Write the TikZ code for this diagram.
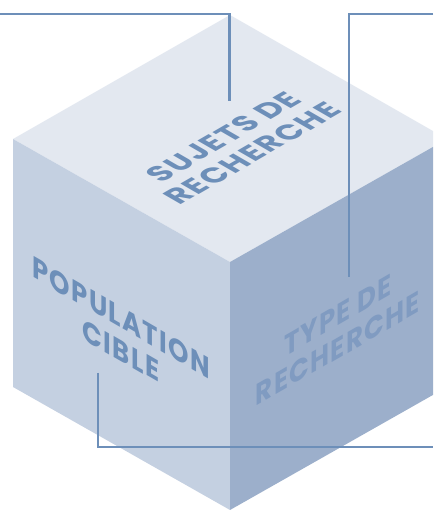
\documentclass[tikz,border=0pt]{standalone}
\usepackage{fontspec}
\setmainfont{Poppins}
\usepackage{tikz}
\usetikzlibrary{positioning}
\definecolor{topface}{HTML}{E3E8F0}
\definecolor{leftface}{HTML}{C4D0E1}
\definecolor{rightface}{HTML}{9CAFCB}
\definecolor{cubeline}{HTML}{6D8FB9}
\definecolor{dimtext}{HTML}{809BC1}
\tikzset{
	facetext/.style={font=\bfseries\fontsize{30}{33}\selectfont\addfontfeature{LetterSpace=5},
		text=cubeline, align=center, inner sep=0pt, transform shape},
	callout/.style={draw=cubeline, line width=2.4pt}
}

\begin{document}
\begin{tikzpicture}[x=1pt,y=1pt]
	\useasboundingbox (0,0) rectangle (433,510);
	\clip (0,0) rectangle (433,510);
	% cube faces
	\fill[topface] (230,495) -- (13,371) -- (230,248) -- (447,371) -- cycle;
	\fill[leftface] (13,371) -- (230,248) -- (230,0) -- (13,123) -- cycle;
	\fill[rightface] (447,371) -- (230,248) -- (230,0) -- (447,123) -- cycle;
	% face labels
	\begin{scope}[cm={0.866,0.5,-0.866,0.5,(238,365)}]
		\node[facetext] (sujets) at (0,0) {SUJETS DE\\RECHERCHE};
	\end{scope}
	\begin{scope}[cm={0.866,-0.5,0,1,(121,176)}]
		\node[facetext] (population) at (0,0) {POPULATION\\CIBLE};
	\end{scope}
	\begin{scope}[cm={0.866,0.5,0,1,(338,178)}]
		\node[facetext, text=dimtext] (type) at (0,0) {TYPE DE\\RECHERCHE};
	\end{scope}
	% callout lines
	\coordinate (sujetsout) at (0,496);
	\coordinate (sujetstip) at (229.5,409);
	\coordinate (typeout) at (433,496);
	\coordinate (typetip) at (349,233);
	\coordinate (poptip) at (98,137);
	\coordinate (popout) at (433,63);
	\draw[callout] (sujetsout) -| (sujetstip);
	\draw[callout] (typeout) -| (typetip);
	\draw[callout] (poptip) |- (popout);
\end{tikzpicture}
\end{document}
